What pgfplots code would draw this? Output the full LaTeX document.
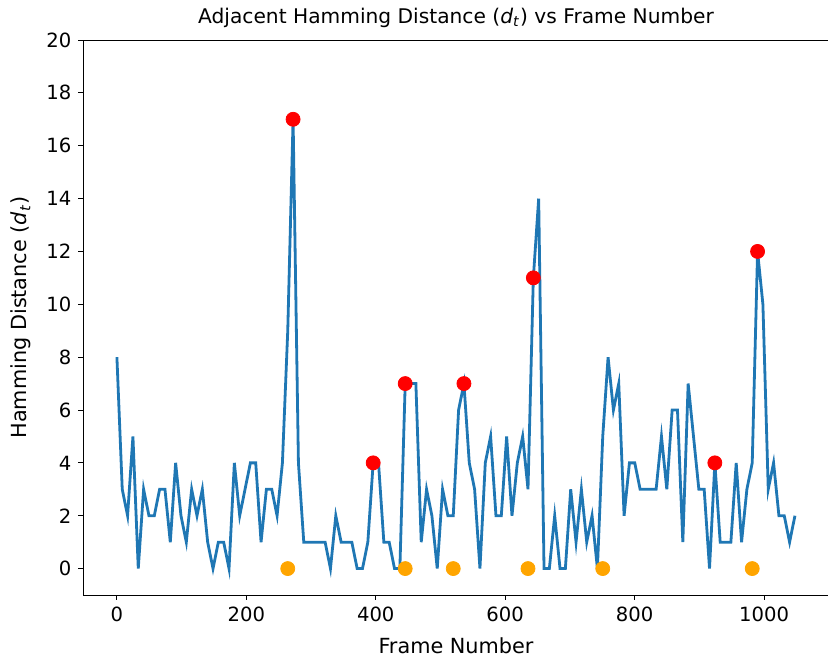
\documentclass[border=0pt]{standalone}
\usepackage{fontspec}
\setmainfont{DejaVu Sans}
\usepackage{pgfplots}
\pgfplotsset{compat=1.18}
\definecolor{mplblue}{HTML}{1F77B4}
\definecolor{mplorange}{HTML}{FFA500}
\definecolor{mplred}{HTML}{FF0000}
\begin{document}
\begin{tikzpicture}
\begin{axis}[
  at={(0pt,0pt)}, anchor=south west,
  scale only axis,
  width=373pt, height=277.5pt,
  xmin=-52.4, xmax=1100.4,
  ymin=-1, ymax=20,
  xtick={0,200,400,600,800,1000},
  ytick={0,2,4,6,8,10,12,14,16,18,20},
  tick align=outside,
  major tick length=2.3pt,
  tick style={black, line width=0.45pt},
  axis line style={line width=0.5pt},
  xtick pos=bottom, ytick pos=left,
  /pgf/number format/assume math mode=true,
  /pgf/number format/1000 sep={},
  tick label style={font=\fontsize{9.8}{11}\selectfont},
  title={Adjacent Hamming Distance (\textit{d}\textsubscript{\textit{t}}) vs Frame Number},
  title style={font=\fontsize{10.1}{12}\selectfont, at={(axis description cs:0.5,1)}, anchor=base, yshift=2.5pt},
  xlabel={Frame Number},
  xlabel style={font=\fontsize{10.4}{12}\selectfont, at={(axis description cs:0.5,0)}, anchor=base, yshift=-29pt},
  ylabel={Hamming Distance (\textit{d}\textsubscript{\textit{t}})},
  ylabel style={font=\fontsize{10.4}{12}\selectfont, at={(axis description cs:-0.0751,0.5)}, anchor=base},
  clip=false,
]
\addplot[mplred, only marks, mark=*, mark size=3.5pt, mark options={mplred}] coordinates {
(272.25,17) (396,4) (445.5,7) (536.25,7) (643.5,11) (924,4) (990,12)
};
\addplot[mplorange, only marks, mark=*, mark size=3.5pt, mark options={mplorange}] coordinates {
(264,0) (445.5,0) (519.75,0) (635.25,0) (750.75,0) (981.75,0)
};
\addplot[mplblue, line width=1.4pt, no markers, line join=miter] coordinates {
(0,8) (8.25,3) (16.5,2) (24.75,5) (33,0) (41.25,3) (49.5,2) (57.75,2) (66,3) (74.25,3)
(82.5,1) (90.75,4) (99,2) (107.25,1) (115.5,3) (123.75,2) (132,3) (140.25,1) (148.5,0) (156.75,1)
(165,1) (173.25,0) (181.5,4) (189.75,2) (198,3) (206.25,4) (214.5,4) (222.75,1) (231,3) (239.25,3)
(247.5,2) (255.75,4) (264,9) (272.25,17) (280.5,4) (288.75,1) (297,1) (305.25,1) (313.5,1) (321.75,1)
(330,0) (338.25,2) (346.5,1) (354.75,1) (363,1) (371.25,0) (379.5,0) (387.75,1) (396,4) (404.25,4)
(412.5,1) (420.75,1) (429,0) (437.25,0) (445.5,7) (453.75,7) (462,7) (470.25,1) (478.5,3) (486.75,2)
(495,0) (503.25,3) (511.5,2) (519.75,2) (528,6) (536.25,7) (544.5,4) (552.75,3) (561,0) (569.25,4)
(577.5,5) (585.75,2) (594,2) (602.25,5) (610.5,2) (618.75,4) (627,5) (635.25,3) (643.5,11) (651.75,14)
(660,0) (668.25,0) (676.5,2) (684.75,0) (693,0) (701.25,3) (709.5,1) (717.75,3) (726,1) (734.25,2)
(742.5,0) (750.75,5) (759,8) (767.25,6) (775.5,7) (783.75,2) (792,4) (800.25,4) (808.5,3) (816.75,3)
(825,3) (833.25,3) (841.5,5) (849.75,3) (858,6) (866.25,6) (874.5,1) (882.75,7) (891,5) (899.25,3)
(907.5,3) (915.75,0) (924,4) (932.25,1) (940.5,1) (948.75,1) (957,4) (965.25,1) (973.5,3) (981.75,4)
(990,12) (998.25,10) (1006.5,3) (1014.75,4) (1023,2) (1031.25,2) (1039.5,1) (1047.75,2)
};
\end{axis}
\pgfresetboundingbox
\useasboundingbox (-41.5pt,-35.5pt) rectangle (372.5pt,297.5pt);
\end{tikzpicture}
\end{document}
